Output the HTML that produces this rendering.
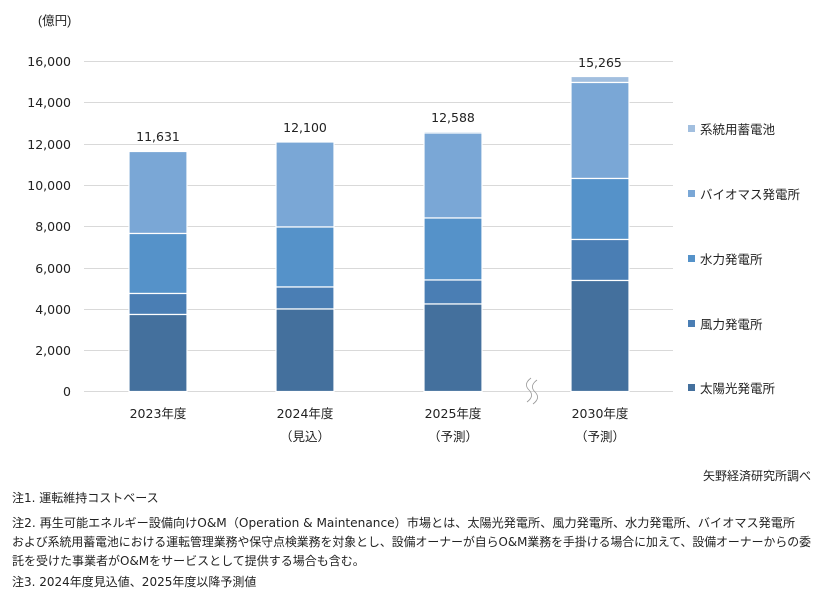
<!DOCTYPE html>
<html><head><meta charset="utf-8"><style>
html,body{margin:0;padding:0;background:#fff}
svg{display:block}
text{font-family:"DejaVu Sans","Liberation Sans","Noto Sans CJK JP",sans-serif;fill:#222}
.j{font-family:"Liberation Sans","Noto Sans CJK JP",sans-serif}
</style></head><body>
<svg width="825" height="602" viewBox="0 0 825 602" xmlns="http://www.w3.org/2000/svg">
<text x="38" y="25" font-size="12.5" class="j">(億円)</text>
<g stroke="#d9d9d9" stroke-width="1">
<line x1="84" x2="673" y1="61.5" y2="61.5"/><line x1="84" x2="673" y1="102.5" y2="102.5"/>
<line x1="84" x2="673" y1="144.5" y2="144.5"/><line x1="84" x2="673" y1="185.5" y2="185.5"/>
<line x1="84" x2="673" y1="226.5" y2="226.5"/><line x1="84" x2="673" y1="268.5" y2="268.5"/>
<line x1="84" x2="673" y1="309.5" y2="309.5"/><line x1="84" x2="673" y1="350.5" y2="350.5"/>
<line x1="84" x2="673" y1="391.5" y2="391.5"/>
</g>
<g font-size="12.5" text-anchor="end">
<text x="71" y="66">16,000</text><text x="71" y="107">14,000</text><text x="71" y="149">12,000</text>
<text x="71" y="190">10,000</text><text x="71" y="231">8,000</text><text x="71" y="273">6,000</text>
<text x="71" y="314">4,000</text><text x="71" y="355">2,000</text><text x="71" y="396">0</text>
</g>
<g stroke="#fff" stroke-width="1.2">
<!-- 2023 -->
<rect x="129" y="151.5" width="58" height="82" fill="#7aa7d6"/>
<rect x="129" y="233.5" width="58" height="60" fill="#5592c9"/>
<rect x="129" y="293.5" width="58" height="21" fill="#4a7eb4"/>
<rect x="129" y="314.5" width="58" height="77" fill="#44709d"/>
<!-- 2024 -->
<rect x="276" y="142" width="58" height="85" fill="#7aa7d6"/>
<rect x="276" y="227" width="58" height="60" fill="#5592c9"/>
<rect x="276" y="287" width="58" height="22" fill="#4a7eb4"/>
<rect x="276" y="309" width="58" height="82.5" fill="#44709d"/>
<!-- 2025 -->
<rect x="424" y="131.5" width="58" height="1.5" fill="#a2bfdf"/>
<rect x="424" y="133" width="58" height="85" fill="#7aa7d6"/>
<rect x="424" y="218" width="58" height="62" fill="#5592c9"/>
<rect x="424" y="280" width="58" height="24" fill="#4a7eb4"/>
<rect x="424" y="304" width="58" height="87.5" fill="#44709d"/>
<!-- 2030 -->
<rect x="571" y="76.5" width="58" height="6" fill="#a2bfdf"/>
<rect x="571" y="82.5" width="58" height="96" fill="#7aa7d6"/>
<rect x="571" y="178.5" width="58" height="61" fill="#5592c9"/>
<rect x="571" y="239.5" width="58" height="41" fill="#4a7eb4"/>
<rect x="571" y="280.5" width="58" height="111" fill="#44709d"/>
</g>
<g font-size="12.5" text-anchor="middle">
<text x="158" y="141">11,631</text><text x="305" y="132">12,100</text>
<text x="453" y="122">12,588</text><text x="600" y="67">15,265</text>
</g>
<path d="M537 380 q-8 6 -2 12 q6 6 -2 12 M531 378 q-8 6 -2 12 q6 6 -2 12" stroke="#999" fill="none" stroke-width="0.8" transform="translate(0,0)"/>
<g font-size="12.5" class="j" text-anchor="middle">
<text x="158" y="418">2023年度</text><text x="305" y="418">2024年度</text>
<text x="453" y="418">2025年度</text><text x="600" y="418">2030年度</text>
<text x="305" y="441">（見込）</text><text x="453" y="441">（予測）</text><text x="600" y="441">（予測）</text>
</g>
<g font-size="12.5" class="j">
<rect x="688" y="125" width="7" height="7" fill="#a2bfdf"/><text x="700" y="134">系統用蓄電池</text>
<rect x="688" y="190" width="7" height="7" fill="#7aa7d6"/><text x="700" y="199">バイオマス発電所</text>
<rect x="688" y="255" width="7" height="7" fill="#5592c9"/><text x="700" y="264">水力発電所</text>
<rect x="688" y="320" width="7" height="7" fill="#4a7eb4"/><text x="700" y="329">風力発電所</text>
<rect x="688" y="384" width="7" height="7" fill="#44709d"/><text x="700" y="393">太陽光発電所</text>
</g>
<g font-size="12" class="j">
<text x="811" y="480" text-anchor="end">矢野経済研究所調べ</text>
<text x="12" y="502">注1. 運転維持コストベース</text>
<text x="12" y="527" textLength="783" lengthAdjust="spacingAndGlyphs">注2. 再生可能エネルギー設備向けO&amp;M（Operation &amp; Maintenance）市場とは、太陽光発電所、風力発電所、水力発電所、バイオマス発電所</text>
<text x="12" y="546" textLength="799" lengthAdjust="spacingAndGlyphs">および系統用蓄電池における運転管理業務や保守点検業務を対象とし、設備オーナーが自らO&amp;M業務を手掛ける場合に加えて、設備オーナーからの委</text>
<text x="12" y="565">託を受けた事業者がO&amp;Mをサービスとして提供する場合も含む。</text>
<text x="12" y="586">注3. 2024年度見込値、2025年度以降予測値</text>
</g>
</svg>
</body></html>
